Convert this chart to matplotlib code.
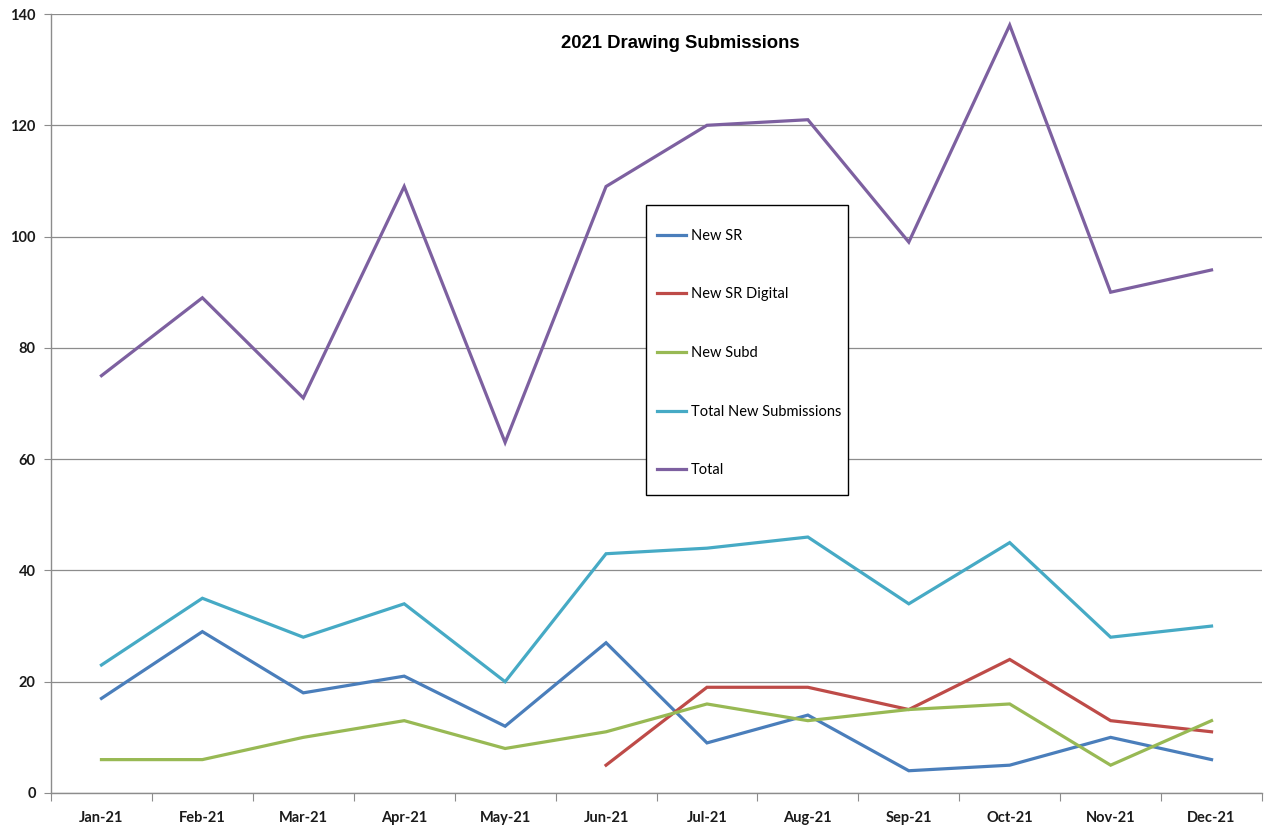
import matplotlib
matplotlib.use("Agg")
import matplotlib.pyplot as plt
from matplotlib.patches import Rectangle
import numpy as np

months = ["Jan-21", "Feb-21", "Mar-21", "Apr-21", "May-21", "Jun-21",
          "Jul-21", "Aug-21", "Sep-21", "Oct-21", "Nov-21", "Dec-21"]
new_sr = [17, 29, 18, 21, 12, 27, 9, 14, 4, 5, 10, 6]
new_sr_digital = [np.nan, np.nan, np.nan, np.nan, np.nan, 5, 19, 19, 15, 24, 13, 11]
new_subd = [6, 6, 10, 13, 8, 11, 16, 13, 15, 16, 5, 13]
total_new = [23, 35, 28, 34, 20, 43, 44, 46, 34, 45, 28, 30]
total = [75, 89, 71, 109, 63, 109, 120, 121, 99, 138, 90, 94]

series = [
    ("New SR", new_sr, "#4A7EBB"),
    ("New SR Digital", new_sr_digital, "#BE4B48"),
    ("New Subd", new_subd, "#98B954"),
    ("Total New Submissions", total_new, "#46AAC5"),
    ("Total", total, "#7D60A0"),
]

fig = plt.figure(figsize=(12.65, 8.26), dpi=100)
ax = fig.add_axes([51/1265, 33/826, (1262-51)/1265, (793-14)/826])

x = np.arange(len(months))
handles = []
for name, vals, col in series:
    h, = ax.plot(x, vals, color=col, lw=2.3, label=name, solid_joinstyle="miter")
    handles.append(h)

ax.set_xlim(-0.5, len(months) - 0.5)
ax.set_ylim(0, 140)
ax.set_yticks(np.arange(0, 141, 20))
ax.yaxis.grid(True, color="#8c8c8c", lw=0.9)
ax.set_axisbelow(True)

# ticks at category boundaries, labels at centers
ax.set_xticks(np.arange(-0.5, len(months), 1.0))
ax.set_xticklabels([])
ax.set_xticks(x, minor=True)
ax.set_xticklabels(months, minor=True)
ax.tick_params(axis="x", which="major", length=6, color="#8c8c8c", direction="out")
ax.tick_params(axis="x", which="minor", length=0, pad=13)
ax.tick_params(axis="y", length=5, color="#8c8c8c", direction="out", pad=6)

for lab in ax.get_xticklabels(minor=True) + ax.get_yticklabels():
    lab.set_fontfamily("Lato")
    lab.set_fontweight("bold")
    lab.set_fontsize(10.5)
    lab.set_color("#1a1a1a")

for s in ["top", "right"]:
    ax.spines[s].set_visible(False)
for s in ["left", "bottom"]:
    ax.spines[s].set_color("#8c8c8c")
    ax.spines[s].set_linewidth(1.0)

fig.text(680/1265, 1 - 44/826, "2021 Drawing Submissions", ha="center", va="center",
         fontfamily="Liberation Sans", fontweight="bold", fontsize=13.3)

# legend frame
box = (646/1265, 1 - 495/826, 202/1265, 290/826)
fig.patches.append(Rectangle(box[:2], box[2], box[3], transform=fig.transFigure,
                             facecolor="white", edgecolor="black", lw=1.0, zorder=2))
leg = fig.legend(handles, [s[0] for s in series], loc="center left",
                 bbox_to_anchor=(box[0], box[1] - 3/826, box[2], box[3]),
                 bbox_transform=fig.transFigure, frameon=False,
                 prop={"family": "Lato", "size": 10.5},
                 handlelength=2.0, handletextpad=0.35, labelspacing=3.06, borderpad=0.0,
                 borderaxespad=0.75)
leg.set_zorder(3)
for h in leg.get_lines():
    h.set_linewidth(2.3)

fig.savefig("out.png", dpi=100, facecolor="white")
